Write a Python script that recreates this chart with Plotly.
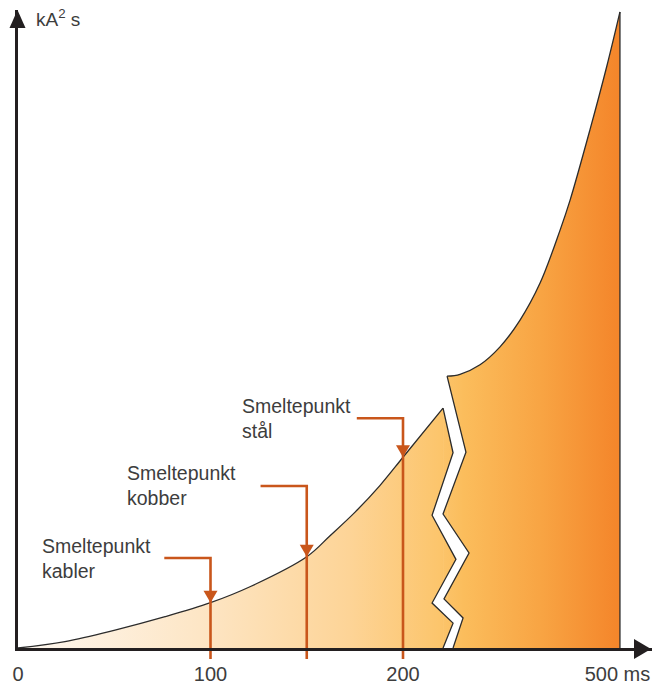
import numpy as np
import plotly.graph_objects as go

# ---------------- data ----------------
left_x = [0, 24.4, 50.4, 76.4, 100, 120.5, 150, 162.1, 175.1, 188.1, 200, 220.8]
left_y = [0, 1.0, 2.8, 4.9, 7.1, 9.6, 14.3, 17.6, 21.3, 25.5, 29.9, 37.6]

right_x = [222.9, 229.6, 240.0, 250.4, 260.8, 271.2, 281.6, 286.8, 297.1, 305.8, 312.7]
right_y = [42.6, 42.9, 44.4, 47.2, 51.4, 57.2, 65.5, 70.2, 81.2, 91.1, 99.7]

left_break_x = [220.8, 226.0, 215.1, 227.5, 215.1, 226.0, 220.8]
left_break_y = [37.6, 30.6, 20.8, 13.9, 7.05, 3.9, 0]
right_break_x = [222.9, 232.7, 220.8, 234.3, 221.3, 231.2, 226.0]
right_break_y = [42.6, 30.7, 21.0, 14.9, 7.7, 4.7, 0]

tick_vals = [0, 100, 200, 311.4]
tick_text = ["0", "100", "200", "500 ms"]

melt_x = [100, 150, 200]
melt_labels = ["Smeltepunkt<br>kabler", "Smeltepunkt<br>kobber", "Smeltepunkt<br>stål"]
y_title = "kA<sup>2</sup> s"

# ---------------- layout / style ----------------
W, H = 652, 684
ML, MR, MT, MB = 18, 0, 10, 36
PW, PH = W - ML - MR, H - MT - MB
PX_PER_X = 1.925
X_RANGE = [0, PW / PX_PER_X]
Y_RANGE = [0, 100]

leader_y = [14.1, 25.4, 36.0]
label_x = [11.4, 55.6, 115.3]
LEADER_LEN = 24.0

OUT = "#2b2b2b"
ORANGE = "#c9561b"
TXT = "#3d3d3d"
FONT = "Liberation Sans, Arial, sans-serif"
FS = 19.5

scale = [[0.0, "#fef8f1"], [0.3, "#fde6c6"], [0.55, "#fdd497"], [0.70, "#fcc56c"],
         [0.74, "#fbbd5c"], [0.87, "#f8a443"], [1.0, "#f4852a"]]
grad = dict(type="horizontal", colorscale=scale, start=0, stop=right_x[-1])


def ypaper(y):
    return (y - Y_RANGE[0]) / (Y_RANGE[1] - Y_RANGE[0])


def px2paper(px, py):
    return (px - ML) / PW, (H - MB - py) / PH


fig = go.Figure()
# fills
fig.add_trace(go.Scatter(x=left_x, y=left_y, mode="lines", line=dict(shape="spline", width=0),
                         fill="tozeroy", fillgradient=grad, hoverinfo="skip"))
fig.add_trace(go.Scatter(x=right_x, y=right_y, mode="lines", line=dict(shape="spline", width=0),
                         fill="tozeroy", fillgradient=grad, hoverinfo="skip"))
fig.add_trace(go.Scatter(x=left_break_x, y=left_break_y, mode="lines", line=dict(width=0),
                         fill="toself", fillgradient=grad, hoverinfo="skip"))
fig.add_trace(go.Scatter(x=right_break_x + [right_break_x[0]], y=right_break_y + [0], mode="lines",
                         line=dict(width=0), fill="toself", fillgradient=grad, hoverinfo="skip"))
# white gap
fig.add_trace(go.Scatter(x=left_break_x + right_break_x[::-1], y=left_break_y + right_break_y[::-1],
                         mode="lines", line=dict(width=0), fill="toself", fillcolor="white",
                         hoverinfo="skip"))
# outlines
for xs, ys, shp in [(left_x, left_y, "spline"), (right_x, right_y, "spline"),
                    (left_break_x, left_break_y, "linear"), (right_break_x, right_break_y, "linear"),
                    ([right_x[-1], right_x[-1]], [0, right_y[-1]], "linear")]:
    fig.add_trace(go.Scatter(x=xs, y=ys, mode="lines", line=dict(shape=shp, color=OUT, width=1.3),
                             hoverinfo="skip"))

shapes = []
annotations = []
hw = 7 / PX_PER_X
ah = 12 / PH
ext = 11 / PH
for mx, lbl, ly, lx in zip(melt_x, melt_labels, leader_y, label_x):
    yc = float(np.interp(mx, left_x, left_y))
    shapes.append(dict(type="path", xref="x", yref="paper", layer="above",
                       path=f"M {mx - LEADER_LEN},{ypaper(ly)} L {mx},{ypaper(ly)} L {mx},0",
                       line=dict(color=ORANGE, width=2.6)))
    shapes.append(dict(type="path", xref="x", yref="paper", layer="below",
                       path=f"M {mx},0 L {mx},{-ext}", line=dict(color=ORANGE, width=2.6)))
    tip = ypaper(yc)
    shapes.append(dict(type="path", xref="x", yref="paper", layer="above",
                       path=f"M {mx - hw},{tip + ah} L {mx + hw},{tip + ah} L {mx},{tip} Z",
                       fillcolor=ORANGE, line=dict(width=0)))
    annotations.append(dict(x=lx, y=ly, xref="x", yref="y", text=lbl, showarrow=False,
                            xanchor="left", yanchor="middle", align="left",
                            font=dict(family=FONT, size=FS, color=TXT)))

# axis arrowheads
tx, ty = px2paper(17.5, 10)
bx1, by1 = px2paper(9.5, 28)
bx2, by2 = px2paper(25.5, 28)
shapes.append(dict(type="path", xref="paper", yref="paper", layer="above",
                   path=f"M {bx1},{by1} L {bx2},{by2} L {tx},{ty} Z", fillcolor="#231f20",
                   line=dict(width=0)))
tx, ty = px2paper(651, 649)
bx1, by1 = px2paper(634, 639)
bx2, by2 = px2paper(634, 659)
shapes.append(dict(type="path", xref="paper", yref="paper", layer="above",
                   path=f"M {bx1},{by1} L {bx2},{by2} L {tx},{ty} Z", fillcolor="#231f20",
                   line=dict(width=0)))

lx0, ly0 = px2paper(34, 18)
annotations.append(dict(x=lx0, y=ly0, xref="paper", yref="paper", text=y_title, showarrow=False,
                        xanchor="left", yanchor="middle", font=dict(family=FONT, size=19, color=TXT)))

fig.update_layout(
    width=W, height=H, margin=dict(l=ML, r=MR, t=MT, b=MB, pad=0),
    paper_bgcolor="white", plot_bgcolor="white", showlegend=False,
    shapes=shapes, annotations=annotations,
    xaxis=dict(range=X_RANGE, showgrid=False, zeroline=False, showline=True, linewidth=3,
               linecolor="#231f20", tickvals=tick_vals, ticktext=tick_text, ticks="outside",
               ticklen=6, tickcolor="rgba(0,0,0,0)", automargin=False, ticklabeloverflow="allow",
               tickfont=dict(family=FONT, size=20, color=TXT), fixedrange=True),
    yaxis=dict(range=Y_RANGE, showgrid=False, zeroline=False, showline=True, linewidth=3,
               linecolor="#231f20", showticklabels=False, ticks="", fixedrange=True,
               automargin=False),
)
fig.write_html("out.html", config={"displayModeBar": False},
               post_script="document.body.style.margin='0px';document.body.style.padding='0px';")
